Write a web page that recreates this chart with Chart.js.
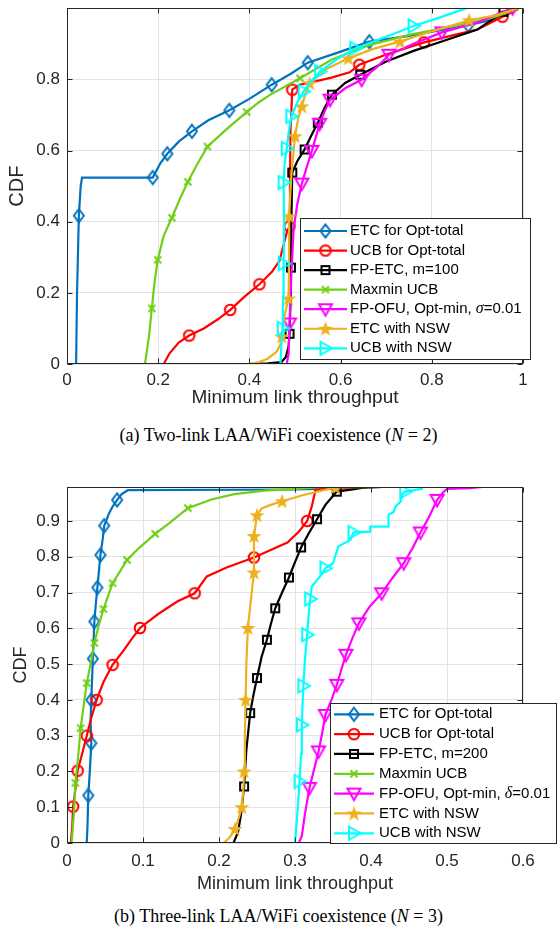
<!DOCTYPE html>
<html lang="en">
<head>
<meta charset="UTF-8" />
<title>Minimum link throughput CDF</title>
<script src="https://cdn.jsdelivr.net/npm/chart.js"></script>
<style>
    body { margin: 0; background: #fff; }
    .page { position: relative; width: 557px; height: 935px; overflow: hidden; }
    canvas { position: absolute; left: 0; }
    #chartA { top: 0; }
    #chartB { top: 470px; }
    .caption {
        position: absolute; left: 0; width: 557px; text-align: center;
        font-family: 'Liberation Serif', 'Times New Roman', serif; font-size: 18px; color: #000;
        line-height: 21px;
    }
    #capA { top: 425px; }
    #capB { top: 906px; }
</style>
</head>
<body>
<div class="page">
    <canvas id="chartA" width="557" height="415"></canvas>
    <div class="caption" id="capA">(a) Two-link LAA/WiFi coexistence (<i>N</i> = 2)</div>
    <canvas id="chartB" width="557" height="435"></canvas>
    <div class="caption" id="capB">(b) Three-link LAA/WiFi coexistence (<i>N</i> = 3)</div>
</div>

<script>
    // ---- tick values ----
    const xTicksA = [0, 0.2, 0.4, 0.6, 0.8, 1];
    const yTicksA = [0, 0.2, 0.4, 0.6, 0.8];
    const xTicksB = [0, 0.1, 0.2, 0.3, 0.4, 0.5, 0.6];
    const yTicksB = [0, 0.1, 0.2, 0.3, 0.4, 0.5, 0.6, 0.7, 0.8, 0.9];

    const namesA = ['ETC for Opt-total', 'UCB for Opt-total', 'FP-ETC, m=100', 'Maxmin UCB',
        'FP-OFU, Opt-min, σ=0.01', 'ETC with NSW', 'UCB with NSW'];
    const namesB = ['ETC for Opt-total', 'UCB for Opt-total', 'FP-ETC, m=200', 'Maxmin UCB',
        'FP-OFU, Opt-min, δ=0.01', 'ETC with NSW', 'UCB with NSW'];

    // ---- (a) two-link: x = throughput, y = CDF, m = samples that carry a marker ----
    const aEtcOptX = [0.020, 0.022, 0.026, 0.030, 0.033, 0.188, 0.205, 0.220, 0.245, 0.274, 0.310, 0.356, 0.400, 0.449, 0.490, 0.528, 0.600, 0.663, 0.750, 0.820, 0.880, 0.940, 0.985];
    const aEtcOptY = [0, 0.20, 0.417, 0.500, 0.524, 0.524, 0.565, 0.591, 0.625, 0.654, 0.685, 0.713, 0.745, 0.785, 0.815, 0.847, 0.878, 0.906, 0.922, 0.938, 0.952, 0.970, 0.998];
    const aEtcOptM = [2, 5, 7, 9, 11, 13, 15, 17, 20];

    const aUcbOptX = [0.212, 0.225, 0.245, 0.268, 0.300, 0.330, 0.358, 0.390, 0.422, 0.450, 0.466, 0.474, 0.482, 0.488, 0.489, 0.490, 0.494, 0.510, 0.530, 0.580, 0.620, 0.641, 0.700, 0.783, 0.850, 0.900, 0.955, 0.990];
    const aUcbOptY = [0, 0.030, 0.060, 0.080, 0.100, 0.125, 0.152, 0.190, 0.224, 0.260, 0.290, 0.330, 0.370, 0.387, 0.500, 0.650, 0.771, 0.785, 0.790, 0.805, 0.820, 0.841, 0.870, 0.904, 0.925, 0.940, 0.976, 0.998];
    const aUcbOptM = [3, 6, 8, 13, 16, 21, 23, 26];

    const aFpEtcX = [0.385, 0.400, 0.440, 0.470, 0.480, 0.486, 0.488, 0.490, 0.491, 0.492, 0.494, 0.505, 0.521, 0.535, 0.550, 0.565, 0.581, 0.610, 0.643, 0.700, 0.760, 0.830, 0.900, 0.957, 0.990];
    const aFpEtcY = [0, 0, 0.002, 0.005, 0.020, 0.050, 0.085, 0.170, 0.271, 0.400, 0.538, 0.570, 0.603, 0.640, 0.678, 0.720, 0.757, 0.790, 0.813, 0.850, 0.880, 0.910, 0.940, 0.990, 1.0];
    const aFpEtcM = [6, 8, 10, 12, 14, 16, 18, 23];

    const aMaxminX = [0.171, 0.180, 0.186, 0.192, 0.199, 0.212, 0.230, 0.248, 0.265, 0.285, 0.308, 0.350, 0.394, 0.420, 0.446, 0.511, 0.580, 0.660, 0.750, 0.850, 0.930, 0.990];
    const aMaxminY = [0, 0.080, 0.156, 0.230, 0.293, 0.360, 0.411, 0.465, 0.512, 0.560, 0.611, 0.660, 0.708, 0.735, 0.757, 0.803, 0.855, 0.895, 0.925, 0.950, 0.972, 0.998];
    const aMaxminM = [2, 4, 6, 8, 10, 12, 15];

    const aFpOfuX = [0.482, 0.486, 0.488, 0.492, 0.497, 0.505, 0.515, 0.525, 0.537, 0.554, 0.565, 0.577, 0.610, 0.646, 0.680, 0.706, 0.760, 0.822, 0.900, 0.977];
    const aFpOfuY = [0, 0.030, 0.114, 0.250, 0.380, 0.450, 0.507, 0.550, 0.599, 0.675, 0.710, 0.743, 0.775, 0.799, 0.835, 0.869, 0.900, 0.932, 0.960, 1.0];
    const aFpOfuM = [2, 6, 8, 9, 11, 13, 15, 17, 19];

    const aEtcNswX = [0.398, 0.420, 0.440, 0.460, 0.468, 0.471, 0.476, 0.486, 0.487, 0.487, 0.492, 0.500, 0.507, 0.515, 0.523, 0.532, 0.570, 0.617, 0.670, 0.730, 0.800, 0.882, 0.940, 0.990];
    const aEtcNswY = [0, 0.005, 0.015, 0.035, 0.055, 0.077, 0.130, 0.184, 0.300, 0.415, 0.530, 0.640, 0.690, 0.724, 0.760, 0.789, 0.830, 0.859, 0.885, 0.906, 0.935, 0.966, 0.980, 1.0];
    const aEtcNswM = [5, 7, 9, 11, 13, 15, 17, 19, 21];

    const aUcbNswX = [0.468, 0.470, 0.473, 0.474, 0.475, 0.476, 0.475, 0.477, 0.482, 0.486, 0.492, 0.505, 0.519, 0.535, 0.555, 0.590, 0.632, 0.700, 0.760, 0.820, 0.876];
    const aUcbNswY = [0, 0.050, 0.100, 0.190, 0.282, 0.400, 0.510, 0.560, 0.606, 0.650, 0.696, 0.735, 0.766, 0.795, 0.822, 0.855, 0.887, 0.920, 0.950, 0.975, 1.0];
    const aUcbNswM = [2, 4, 6, 8, 10, 12, 14, 16, 18];

    // ---- (b) three-link ----
    const bEtcOptX = [0.026, 0.027, 0.028, 0.030, 0.032, 0.031, 0.032, 0.034, 0.036, 0.038, 0.040, 0.042, 0.044, 0.047, 0.049, 0.055, 0.060, 0.066, 0.072, 0.080, 0.300, 0.400, 0.450];
    const bEtcOptY = [0, 0.050, 0.133, 0.200, 0.279, 0.340, 0.400, 0.515, 0.619, 0.670, 0.714, 0.760, 0.805, 0.850, 0.887, 0.920, 0.940, 0.959, 0.975, 0.986, 0.988, 0.993, 1.0];
    const bEtcOptM = [2, 4, 6, 7, 8, 10, 12, 14, 17];

    const bUcbOptX = [0.005, 0.007, 0.008, 0.011, 0.014, 0.020, 0.026, 0.032, 0.039, 0.048, 0.060, 0.075, 0.085, 0.096, 0.120, 0.145, 0.168, 0.184, 0.210, 0.246, 0.268, 0.290, 0.305, 0.316, 0.322, 0.327, 0.360, 0.410, 0.452];
    const bUcbOptY = [0, 0.050, 0.102, 0.150, 0.202, 0.250, 0.300, 0.350, 0.400, 0.450, 0.498, 0.540, 0.570, 0.601, 0.640, 0.675, 0.698, 0.745, 0.770, 0.798, 0.819, 0.840, 0.870, 0.900, 0.940, 0.987, 0.992, 0.995, 1.0];
    const bUcbOptM = [2, 4, 6, 8, 10, 13, 16, 19, 23];

    const bFpEtcX = [0.219, 0.225, 0.229, 0.233, 0.236, 0.241, 0.245, 0.250, 0.256, 0.263, 0.268, 0.274, 0.283, 0.292, 0.300, 0.308, 0.318, 0.329, 0.340, 0.355, 0.380, 0.410];
    const bFpEtcY = [0, 0.030, 0.080, 0.158, 0.260, 0.363, 0.410, 0.461, 0.520, 0.568, 0.610, 0.656, 0.700, 0.742, 0.785, 0.826, 0.865, 0.905, 0.945, 0.982, 0.990, 1.0];
    const bFpEtcM = [3, 5, 7, 9, 11, 13, 15, 17, 19];

    const bMaxminX = [0.006, 0.009, 0.011, 0.015, 0.018, 0.022, 0.026, 0.031, 0.036, 0.042, 0.048, 0.054, 0.060, 0.070, 0.079, 0.095, 0.116, 0.135, 0.159, 0.190, 0.220, 0.260, 0.300, 0.370];
    const bMaxminY = [0, 0.080, 0.168, 0.250, 0.321, 0.385, 0.447, 0.500, 0.559, 0.610, 0.654, 0.690, 0.726, 0.760, 0.791, 0.825, 0.864, 0.895, 0.936, 0.960, 0.975, 0.985, 0.990, 1.0];
    const bMaxminM = [2, 4, 6, 8, 10, 12, 14, 16, 18];

    const bFpOfuX = [0.305, 0.309, 0.313, 0.319, 0.325, 0.331, 0.336, 0.340, 0.348, 0.355, 0.361, 0.367, 0.375, 0.384, 0.398, 0.414, 0.428, 0.443, 0.455, 0.465, 0.476, 0.487, 0.495, 0.500, 0.530, 0.550, 0.583];
    const bFpOfuY = [0, 0.020, 0.080, 0.154, 0.205, 0.256, 0.310, 0.358, 0.400, 0.442, 0.485, 0.526, 0.570, 0.614, 0.660, 0.698, 0.740, 0.782, 0.825, 0.868, 0.910, 0.959, 0.980, 0.990, 0.992, 0.996, 1.0];
    const bFpOfuM = [3, 5, 7, 9, 11, 13, 15, 17, 19, 21];

    const bEtcNswX = [0.206, 0.214, 0.221, 0.226, 0.230, 0.232, 0.233, 0.234, 0.235, 0.236, 0.238, 0.242, 0.246, 0.246, 0.250, 0.256, 0.268, 0.283, 0.310, 0.353, 0.450, 0.600];
    const bEtcNswY = [0, 0.015, 0.039, 0.070, 0.100, 0.150, 0.200, 0.300, 0.400, 0.500, 0.601, 0.680, 0.756, 0.858, 0.916, 0.935, 0.945, 0.955, 0.972, 0.994, 0.996, 1.0];
    const bEtcNswM = [2, 4, 6, 8, 10, 12, 13, 14, 17, 19];

    const bUcbNswX = [0.300, 0.303, 0.306, 0.308, 0.309, 0.310, 0.311, 0.313, 0.316, 0.318, 0.320, 0.322, 0.333, 0.340, 0.350, 0.357, 0.373, 0.377, 0.399, 0.399, 0.423, 0.423, 0.430, 0.432, 0.439, 0.441, 0.445, 0.467, 0.467];
    const bUcbNswY = [0, 0.080, 0.172, 0.250, 0.330, 0.390, 0.439, 0.510, 0.582, 0.640, 0.682, 0.717, 0.745, 0.768, 0.782, 0.829, 0.847, 0.868, 0.870, 0.884, 0.884, 0.917, 0.926, 0.940, 0.954, 0.975, 0.982, 0.990, 1.0];
    const bUcbNswM = [2, 4, 6, 8, 10, 13, 17, 26];

    // ---- look ----
    const FONT = "'Liberation Sans', Arial, sans-serif";
    const styles = [
        { color: '#0072BD', marker: 'diamond' },
        { color: '#FF0000', marker: 'circle' },
        { color: '#000000', marker: 'square' },
        { color: '#6FCF17', marker: 'x' },
        { color: '#FF00FF', marker: 'triDown' },
        { color: '#EDB120', marker: 'star' },
        { color: '#00FFFF', marker: 'triRight' }
    ];

    function markerImage(kind, color) {
        const s = 18, c = s / 2;
        const cv = document.createElement('canvas');
        cv.width = s; cv.height = s;
        const g = cv.getContext('2d');
        g.strokeStyle = color; g.fillStyle = color; g.lineWidth = 2;
        g.beginPath();
        if (kind === 'diamond') {
            g.moveTo(c, c - 6.5); g.lineTo(c + 5, c); g.lineTo(c, c + 6.5); g.lineTo(c - 5, c); g.closePath(); g.stroke();
        } else if (kind === 'circle') {
            g.arc(c, c, 5.3, 0, Math.PI * 2); g.stroke();
        } else if (kind === 'square') {
            g.rect(c - 4, c - 4, 8, 8); g.stroke();
        } else if (kind === 'x') {
            g.moveTo(c - 3.5, c - 3.5); g.lineTo(c + 3.5, c + 3.5);
            g.moveTo(c + 3.5, c - 3.5); g.lineTo(c - 3.5, c + 3.5); g.stroke();
        } else if (kind === 'triDown') {
            g.moveTo(c - 6.5, c - 5); g.lineTo(c + 6.5, c - 5); g.lineTo(c, c + 6.5); g.closePath(); g.stroke();
        } else if (kind === 'triRight') {
            g.moveTo(c - 5, c - 6.5); g.lineTo(c - 5, c + 6.5); g.lineTo(c + 6.5, c); g.closePath(); g.stroke();
        } else if (kind === 'star') {
            for (let k = 0; k < 10; k++) {
                const r = k % 2 === 0 ? 8 : 3.2;
                const a = -Math.PI / 2 + k * Math.PI / 5;
                const px = c + r * Math.cos(a), py = c + 0.5 + r * Math.sin(a);
                if (k === 0) g.moveTo(px, py); else g.lineTo(px, py);
            }
            g.closePath(); g.fill();
        }
        return cv;
    }

    // box with inward ticks, like the original axes
    const framePlugin = {
        id: 'frame',
        afterDatasetsDraw(chart) {
            const { ctx, chartArea: a, scales } = chart;
            const L = Math.round(a.left) + 0.5, R = Math.round(a.right) - 0.5;
            const T = Math.round(a.top) + 0.5, B = Math.round(a.bottom) - 0.5;
            ctx.save();
            ctx.strokeStyle = '#262626';
            ctx.lineWidth = 1;
            ctx.strokeRect(L, T, R - L, B - T);
            ctx.beginPath();
            scales.x.ticks.forEach(t => {
                const p = Math.round(scales.x.getPixelForValue(t.value)) + 0.5;
                ctx.moveTo(p, B); ctx.lineTo(p, B - 5);
                ctx.moveTo(p, T); ctx.lineTo(p, T + 5);
            });
            scales.y.ticks.forEach(t => {
                const p = Math.round(scales.y.getPixelForValue(t.value)) + 0.5;
                ctx.moveTo(L, p); ctx.lineTo(L + 5, p);
                ctx.moveTo(R, p); ctx.lineTo(R - 5, p);
            });
            ctx.stroke();
            ctx.restore();
        }
    };

    // legend box placed where the original puts it
    const legendPlugin = {
        id: 'boxLegend',
        afterDraw(chart, args, o) {
            const ctx = chart.ctx;
            ctx.save();
            ctx.fillStyle = '#fff';
            ctx.fillRect(o.x, o.y, o.w, o.h);
            ctx.strokeStyle = '#262626';
            ctx.lineWidth = 1;
            ctx.strokeRect(o.x + 0.5, o.y + 0.5, o.w - 1, o.h - 1);
            chart.data.datasets.forEach((ds, i) => {
                const ry = o.row0 + i * o.step;
                ctx.strokeStyle = ds.borderColor;
                ctx.lineWidth = 2.2;
                ctx.beginPath();
                ctx.moveTo(o.lx0, ry); ctx.lineTo(o.lx1, ry);
                ctx.stroke();
                const img = ds.pointStyle;
                ctx.drawImage(img, (o.lx0 + o.lx1) / 2 - img.width / 2, ry - img.height / 2);
                ctx.fillStyle = '#000';
                ctx.textBaseline = 'middle';
                ctx.textAlign = 'left';
                let tx = o.tx;
                ds.label.split(/([σδ])/).forEach(part => {
                    if (!part) return;
                    ctx.font = /[σδ]/.test(part) ? "italic 16px 'Liberation Serif', serif" : '15px ' + FONT;
                    ctx.fillText(part, tx, ry);
                    tx += ctx.measureText(part).width;
                });
            });
            ctx.restore();
        }
    };

    function buildChart(id, series, names, lay) {
        const datasets = series.map((s, i) => ({
            label: names[i],
            data: s.x.map((v, k) => ({ x: v, y: s.y[k] })),
            borderColor: styles[i].color,
            backgroundColor: styles[i].color,
            borderWidth: 2.2,
            tension: 0,
            fill: false,
            order: -i,
            pointStyle: markerImage(styles[i].marker, styles[i].color),
            pointRadius: c => (s.m.includes(c.dataIndex) ? 6 : 0),
            pointHoverRadius: 0
        }));

        return new Chart(document.getElementById(id), {
            type: 'line',
            data: { datasets },
            options: {
                responsive: false,
                animation: false,
                devicePixelRatio: 1,
                layout: { padding: { top: lay.padTop, right: 34, left: 0, bottom: 0 } },
                plugins: {
                    legend: { display: false },
                    tooltip: { enabled: false },
                    boxLegend: lay.legend
                },
                scales: {
                    x: {
                        type: 'linear', min: 0, max: lay.xMax,
                        afterBuildTicks: sc => { sc.ticks = lay.xTicks.map(v => ({ value: v })); },
                        afterFit: sc => { sc.height = lay.xAxisH; sc.paddingLeft = 0; sc.paddingRight = 0; },
                        grid: { color: '#e3e3e3', drawTicks: false },
                        border: { display: false },
                        ticks: {
                            color: '#262626', font: { family: FONT, size: 17 }, padding: lay.xTickPad,
                            maxRotation: 0, autoSkip: false, callback: v => String(v)
                        },
                        title: {
                            display: true, text: 'Minimum link throughput', color: '#262626',
                            font: { family: FONT, size: lay.titleSize }, padding: { top: 0, bottom: lay.xTitlePad }
                        }
                    },
                    y: {
                        type: 'linear', min: 0, max: lay.yMax,
                        afterBuildTicks: sc => { sc.ticks = lay.yTicks.map(v => ({ value: v })); },
                        afterFit: sc => { sc.width = 67; sc.paddingTop = 0; sc.paddingBottom = 0; },
                        grid: { color: '#e3e3e3', drawTicks: false },
                        border: { display: false },
                        ticks: {
                            color: '#262626', font: { family: FONT, size: 17 }, padding: 7,
                            autoSkip: false, callback: v => String(v)
                        },
                        title: {
                            display: true, text: 'CDF', color: '#262626',
                            font: { family: FONT, size: lay.yTitleSize }, padding: { top: lay.yTitlePad, bottom: 0 }
                        }
                    }
                }
            },
            plugins: [framePlugin, legendPlugin]
        });
    }

    const seriesA = [
        { x: aEtcOptX, y: aEtcOptY, m: aEtcOptM },
        { x: aUcbOptX, y: aUcbOptY, m: aUcbOptM },
        { x: aFpEtcX, y: aFpEtcY, m: aFpEtcM },
        { x: aMaxminX, y: aMaxminY, m: aMaxminM },
        { x: aFpOfuX, y: aFpOfuY, m: aFpOfuM },
        { x: aEtcNswX, y: aEtcNswY, m: aEtcNswM },
        { x: aUcbNswX, y: aUcbNswY, m: aUcbNswM }
    ];
    const seriesB = [
        { x: bEtcOptX, y: bEtcOptY, m: bEtcOptM },
        { x: bUcbOptX, y: bUcbOptY, m: bUcbOptM },
        { x: bFpEtcX, y: bFpEtcY, m: bFpEtcM },
        { x: bMaxminX, y: bMaxminY, m: bMaxminM },
        { x: bFpOfuX, y: bFpOfuY, m: bFpOfuM },
        { x: bEtcNswX, y: bEtcNswY, m: bEtcNswM },
        { x: bUcbNswX, y: bUcbNswY, m: bUcbNswM }
    ];

    buildChart('chartA', seriesA, namesA, {
        padTop: 5, xAxisH: 51, xMax: 1, yMax: 1, xTicks: xTicksA, yTicks: yTicksA,
        xTickPad: 6, titleSize: 19, xTitlePad: 5.6, yTitleSize: 20, yTitlePad: 5.5,
        legend: { x: 300, y: 218, w: 231, h: 142, row0: 231, step: 19.55, lx0: 304, lx1: 347, tx: 350 }
    });

    buildChart('chartB', seriesB, namesB, {
        padTop: 17, xAxisH: 62, xMax: 0.6, yMax: 0.995, xTicks: xTicksB, yTicks: yTicksB,
        xTickPad: 8, titleSize: 18, xTitlePad: 10.2, yTitleSize: 18, yTitlePad: 10,
        legend: { x: 330, y: 233, w: 227, h: 141, row0: 244.3, step: 19.83, lx0: 334, lx1: 374, tx: 379 }
    });
</script>
</body>
</html>
